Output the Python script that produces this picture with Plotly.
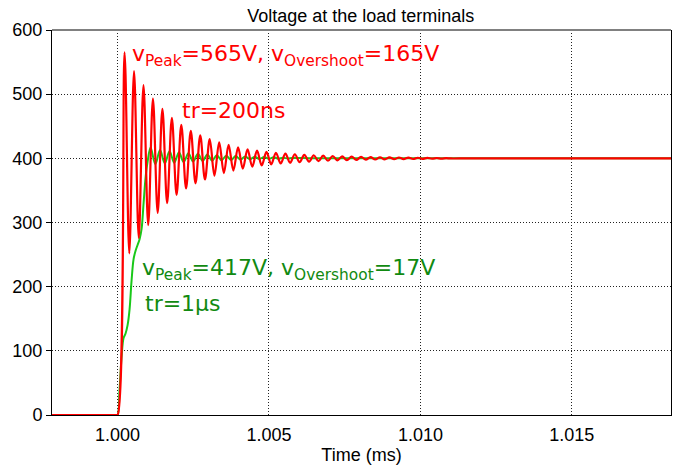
import plotly.graph_objects as go

# ---------------- data ----------------
# Red trace: fast rise (tr = 200 ns) -> extrema of the ringing (time in ms, voltage in V)
red_t = [0.9970, 0.99995, 1.00000,
         1.000231, 1.000387, 1.000544, 1.000700, 1.000856, 1.001012, 1.001168, 1.001325,
         1.001481, 1.001637, 1.001793, 1.001949, 1.002105, 1.002262, 1.002418, 1.002574,
         1.002730, 1.002886, 1.003043, 1.003199, 1.003355, 1.003511, 1.003667, 1.003824,
         1.003980, 1.004136, 1.004292, 1.004448, 1.004605, 1.004761, 1.004917, 1.005073,
         1.005229, 1.005386, 1.005542, 1.005698, 1.005854, 1.006010, 1.006167, 1.006323,
         1.006479, 1.006635, 1.006791, 1.006948, 1.007104, 1.007260, 1.007416, 1.007572,
         1.007729, 1.007885, 1.008041, 1.008197, 1.008353, 1.008510, 1.008666, 1.008822,
         1.008978, 1.009134, 1.009291, 1.009447, 1.009603, 1.009759, 1.009915,
         1.010071, 1.010228, 1.010384, 1.010540, 1.010696, 1.010852, 1.011008,
         1.0115, 1.0125, 1.0150, 1.0175, 1.0190]
red_v = [0, 0, 0,
         565, 252, 536, 276, 514, 296, 493, 315,
         477, 330, 463, 343, 452, 353, 443, 361,
         436, 367, 430, 373, 425, 377, 421, 381,
         417, 384, 414, 387, 412, 389, 410, 390.7,
         408.6, 392.0, 407.4, 393.1, 406.4, 394.0, 405.5, 394.9,
         404.8, 395.6, 404.1, 396.2, 403.6, 396.7, 403.1, 397.1,
         402.7, 397.5, 402.3, 397.9, 402.0, 398.2, 401.7, 398.4,
         401.5, 398.6, 401.3, 398.8, 401.1, 399.0, 400.9,
         399.2, 400.7, 399.4, 400.5, 399.6, 400.3, 399.8,
         400, 400, 400, 400, 400]

# Green trace: slow rise (tr = 1 us) with small ringing
green_t = [0.9970, 0.99995, 1.00000, 1.0000661, 1.000132, 1.000198, 1.000264, 1.000331,
           1.000397, 1.000463, 1.000529, 1.000595, 1.000661, 1.000727, 1.000793,
           1.000859, 1.000925, 1.000992, 1.001091,
           1.001247, 1.001403, 1.001559, 1.001716, 1.001872, 1.002028, 1.002184,
           1.002340, 1.002497, 1.002653, 1.002809, 1.002965, 1.003121, 1.003278,
           1.003434, 1.003590, 1.003746, 1.003902, 1.004059, 1.004215, 1.004371,
           1.004527, 1.004683, 1.004840, 1.004996, 1.005152, 1.005308, 1.005464,
           1.005621, 1.005777, 1.0065, 1.0100, 1.0150, 1.0190]
green_v = [0, 0, 0, 40, 90, 120, 127, 140,
           165, 210, 243, 256, 265, 274, 290,
           330, 370, 395, 417,
           391, 413, 392, 411, 393, 409.5, 394,
           408, 395, 407, 396, 406, 396.5, 405,
           397, 404, 397.5, 403.5, 398, 403, 398.5,
           402.5, 399, 402, 399.2, 401.5, 399.5, 401,
           399.7, 400.6, 400, 400, 400, 400]

x_tickvals = [1.000, 1.005, 1.010, 1.015]
x_ticktext = ["1.000", "1.005", "1.010", "1.015"]
y_tickvals = [0, 100, 200, 300, 400, 500, 600]

RED = "#ff0000"
GREEN_LINE = "#19c819"
GREEN_TEXT = "#118a11"
AX_FONT = "Liberation Sans, Arial, sans-serif"
ANN_FONT = "DejaVu Sans, sans-serif"

fig = go.Figure()
fig.add_trace(go.Scatter(x=green_t, y=green_v, mode="lines",
                         line=dict(color=GREEN_LINE, width=2, shape="spline", smoothing=1),
                         showlegend=False, hoverinfo="skip"))
fig.add_trace(go.Scatter(x=red_t, y=red_v, mode="lines",
                         line=dict(color=RED, width=2.2, shape="spline", smoothing=1),
                         showlegend=False, hoverinfo="skip"))

ann = [
    (1.000400, 561, "v<sub>Peak</sub>=565V, v<sub>Overshoot</sub>=165V", RED),
    (1.002050, 474, "tr=200ns", RED),
    (1.000740, 226, "v<sub>Peak</sub>=417V, v<sub>Overshoot</sub>=17V", GREEN_TEXT),
    (1.000830, 174, "tr=1µs", GREEN_TEXT),
]
for x, y, txt, col in ann:
    fig.add_annotation(x=x, y=y, xref="x", yref="y", text=txt, showarrow=False,
                       xanchor="left", yanchor="middle",
                       font=dict(family=ANN_FONT, size=22, color=col))

# grey top border
fig.add_shape(type="line", xref="paper", yref="paper", x0=0, x1=1, y0=1, y1=1,
              line=dict(color="#808080", width=2))

fig.update_layout(
    width=673, height=466,
    margin=dict(l=52, r=2, t=30, b=51),
    paper_bgcolor="white", plot_bgcolor="white",
    title=dict(text="Voltage at the load terminals", x=0.536, xanchor="center",
               y=1 - 16 / 466, yanchor="middle",
               font=dict(family=AX_FONT, size=18, color="black")),
    font=dict(family=AX_FONT, size=18, color="black"),
)
fig.update_xaxes(range=[0.997835, 1.018275], tickvals=x_tickvals, ticktext=x_ticktext,
                 showgrid=True, gridcolor="#222222", griddash="1px,2px", gridwidth=1,
                 showline=True, linecolor="black", linewidth=1, mirror=False,
                 zeroline=False, ticks="", ticklabelstandoff=3,
                 title=dict(text="Time (ms)", standoff=3,
                            font=dict(family=AX_FONT, size=18, color="black")),
                 tickfont=dict(family=AX_FONT, size=18, color="black"))
fig.update_yaxes(range=[0, 600], tickvals=y_tickvals,
                 showgrid=True, gridcolor="#222222", griddash="1px,2px", gridwidth=1,
                 showline=True, linecolor="black", linewidth=1, mirror=True,
                 zeroline=False, ticks="outside", ticklen=5, tickcolor="black",
                 tickfont=dict(family=AX_FONT, size=18, color="black"))

fig.write_html("out.html")
